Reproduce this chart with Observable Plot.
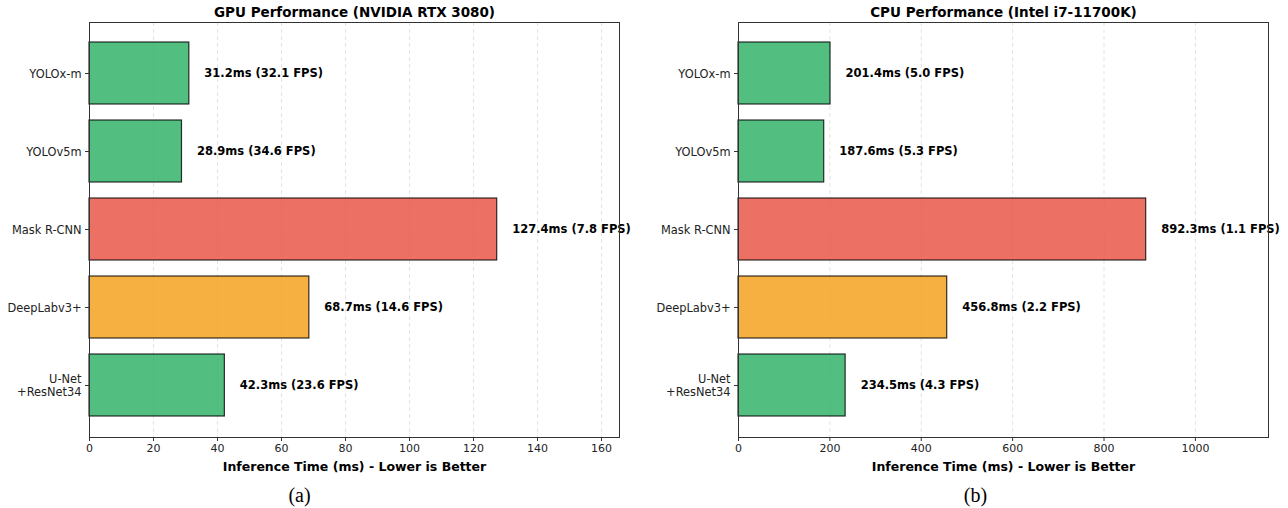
<!DOCTYPE html>
<html>
<head>
<meta charset="utf-8">
<script src="https://cdn.jsdelivr.net/npm/d3@7"></script>
<script src="https://cdn.jsdelivr.net/npm/@observablehq/plot@0.6"></script>
<style>
  html, body { margin: 0; padding: 0; background: #fff; }
  #charts { display: flex; width: 1288px; height: 508px; }
  #charts svg { font-family: "DejaVu Sans", sans-serif; overflow: visible; }
</style>
</head>
<body>
<div id="charts"></div>
<script>
// Models, listed top to bottom
const models = ["YOLOx-m", "YOLOv5m", "Mask R-CNN", "DeepLabv3+", "U-Net+ResNet34"];
const modelLabels = ["YOLOx-m", "YOLOv5m", "Mask R-CNN", "DeepLabv3+", "U-Net\n+ResNet34"];

// Inference time (ms) and throughput (FPS)
const gpuTimes = [31.2, 28.9, 127.4, 68.7, 42.3];
const gpuFps = [32.1, 34.6, 7.8, 14.6, 23.6];
const cpuTimes = [201.4, 187.6, 892.3, 456.8, 234.5];
const cpuFps = [5.0, 5.3, 1.1, 2.2, 4.3];

const gpuTicks = [0, 20, 40, 60, 80, 100, 120, 140, 160];
const cpuTicks = [0, 200, 400, 600, 800, 1000];

// Bar colour by model family
const familyColor = {
  "YOLOx-m": "#27AE60",
  "YOLOv5m": "#27AE60",
  "Mask R-CNN": "#E74C3C",
  "DeepLabv3+": "#F39C12",
  "U-Net+ResNet34": "#27AE60"
};

const labelOf = Object.fromEntries(models.map((m, i) => [m, modelLabels[i]]));

function panel({title, caption, times, fps, ticks, marginLeft, marginRight, captionDx}) {
  const rows = models.map((m, i) => ({model: m, time: times[i], fps: fps[i]}));
  const xMax = d3.max(times) * 1.3;
  const axisColor = "#333";
  return Plot.plot({
    width: 644,
    height: 508,
    marginLeft,
    marginRight,
    marginTop: 22,
    marginBottom: 71,
    style: {fontFamily: "DejaVu Sans, sans-serif", background: "#fff"},
    x: {domain: [0, xMax], ticks, axis: null},
    y: {domain: models, paddingInner: 0.2, paddingOuter: 0.24, axis: null},
    marks: [
      // dashed vertical grid
      Plot.ruleX(ticks, {stroke: "#ccc", strokeDasharray: "4,3", strokeWidth: 0.8, strokeOpacity: 0.7}),
      Plot.barX(rows, {
        y: "model",
        x: "time",
        fill: d => familyColor[d.model],
        fillOpacity: 0.8,
        stroke: "#000",
        strokeOpacity: 0.8,
        strokeWidth: 1.2
      }),
      Plot.text(rows, {
        y: "model",
        x: "time",
        text: d => `${d.time.toFixed(1)}ms (${d.fps.toFixed(1)} FPS)`,
        textAnchor: "start",
        dx: 15,
        fontWeight: "bold",
        fontSize: 11.5,
        fill: "#000"
      }),
      Plot.frame({stroke: axisColor, strokeWidth: 1}),
      Plot.axisX({
        ticks,
        tickSize: 4,
        tickPadding: 3,
        fontSize: 11,
        stroke: axisColor,
        color: "#222",
        label: null,
        tickFormat: d => String(d)
      }),
      Plot.axisY({
        tickSize: 4,
        tickPadding: 4,
        fontSize: 11.4,
        lineHeight: 1.15,
        stroke: axisColor,
        color: "#222",
        label: null,
        tickFormat: d => labelOf[d]
      }),
      Plot.text([title], {
        frameAnchor: "top",
        lineAnchor: "middle",
        dy: -10,
        fontWeight: "bold",
        fontSize: 13.5,
        fill: "#000"
      }),
      Plot.text(["Inference Time (ms) - Lower is Better"], {
        frameAnchor: "bottom",
        lineAnchor: "middle",
        dy: 29,
        fontWeight: "bold",
        fontSize: 12.5,
        fill: "#000"
      }),
      Plot.text([caption], {
        frameAnchor: "bottom",
        lineAnchor: "middle",
        dy: 58,
        dx: captionDx,
        fontSize: 20,
        fontFamily: "Liberation Serif, serif",
        fill: "#000"
      })
    ]
  });
}

const host = document.getElementById("charts");
host.append(panel({
  title: "GPU Performance (NVIDIA RTX 3080)",
  caption: "(a)",
  times: gpuTimes,
  fps: gpuFps,
  ticks: gpuTicks,
  marginLeft: 89,
  marginRight: 25,
  captionDx: -55
}));
host.append(panel({
  title: "CPU Performance (Intel i7-11700K)",
  caption: "(b)",
  times: cpuTimes,
  fps: cpuFps,
  ticks: cpuTicks,
  marginLeft: 94,
  marginRight: 20,
  captionDx: -28
}));
</script>
</body>
</html>
